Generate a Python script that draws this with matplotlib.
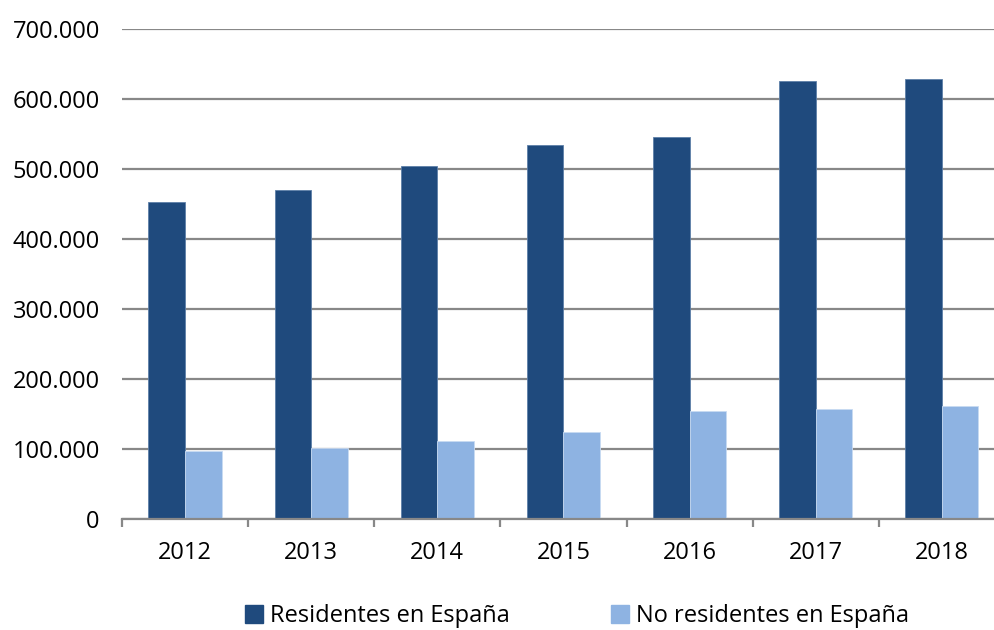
import numpy as np
import matplotlib
matplotlib.use("Agg")
import matplotlib.pyplot as plt
from matplotlib.patches import Patch
from matplotlib.ticker import FuncFormatter

years = ["2012", "2013", "2014", "2015", "2016", "2017", "2018"]
residentes = [453000, 470000, 505000, 534000, 546000, 625000, 628000]
no_residentes = [97000, 101000, 111000, 125000, 154000, 157000, 161000]

C_RES, C_NORES, GRID = "#1F4A7D", "#8EB3E2", "#888888"
plt.rcParams["font.family"] = ["Open Sans", "DejaVu Sans"]
FS = 17

fig = plt.figure(figsize=(9.95, 6.3), dpi=100)
ax = fig.add_axes([0.1226, 0.176, 0.8874, 0.778])
x = np.arange(len(years))
w = 0.29
ax.bar(x - w / 2, residentes, w, color=C_RES, edgecolor="#5d7fa8", lw=0.6, zorder=3)
ax.bar(x + w / 2, no_residentes, w, color=C_NORES, edgecolor="#c8dbf2", lw=0.6, zorder=3)

ax.set_xlim(-0.5, len(years) - 0.5)
ax.set_ylim(0, 700000)
ax.set_yticks(range(0, 700001, 100000))
ax.yaxis.set_major_formatter(FuncFormatter(lambda v, p: f"{int(v):,}".replace(",", ".")))
ax.yaxis.grid(True, color=GRID, lw=1.6, zorder=0)
ax.set_xticks(x)
ax.set_xticklabels(years)
ax.set_xticks(np.arange(-0.5, len(years)), minor=True)
ax.tick_params(axis="x", which="major", length=0, pad=16, labelsize=FS)
ax.tick_params(axis="x", which="minor", length=6, width=1.6, color=GRID, direction="out")
ax.tick_params(axis="y", length=0, pad=16, labelsize=FS)
for s in ["top", "right", "left"]:
    ax.spines[s].set_visible(False)
ax.spines["bottom"].set_color(GRID)
ax.spines["bottom"].set_linewidth(1.6)
ax.spines["bottom"].set_zorder(4)

handles = [Patch(color=C_RES, label="Residentes en España"),
           Patch(color=C_NORES, label="No residentes en España")]
fig.legend(handles=handles, loc="center", bbox_to_anchor=(0.58, 0.022), ncol=2, frameon=False,
           fontsize=FS, handlelength=0.75, handleheight=0.75, handletextpad=0.3, columnspacing=4.3)

fig.savefig("out.png", dpi=100)
